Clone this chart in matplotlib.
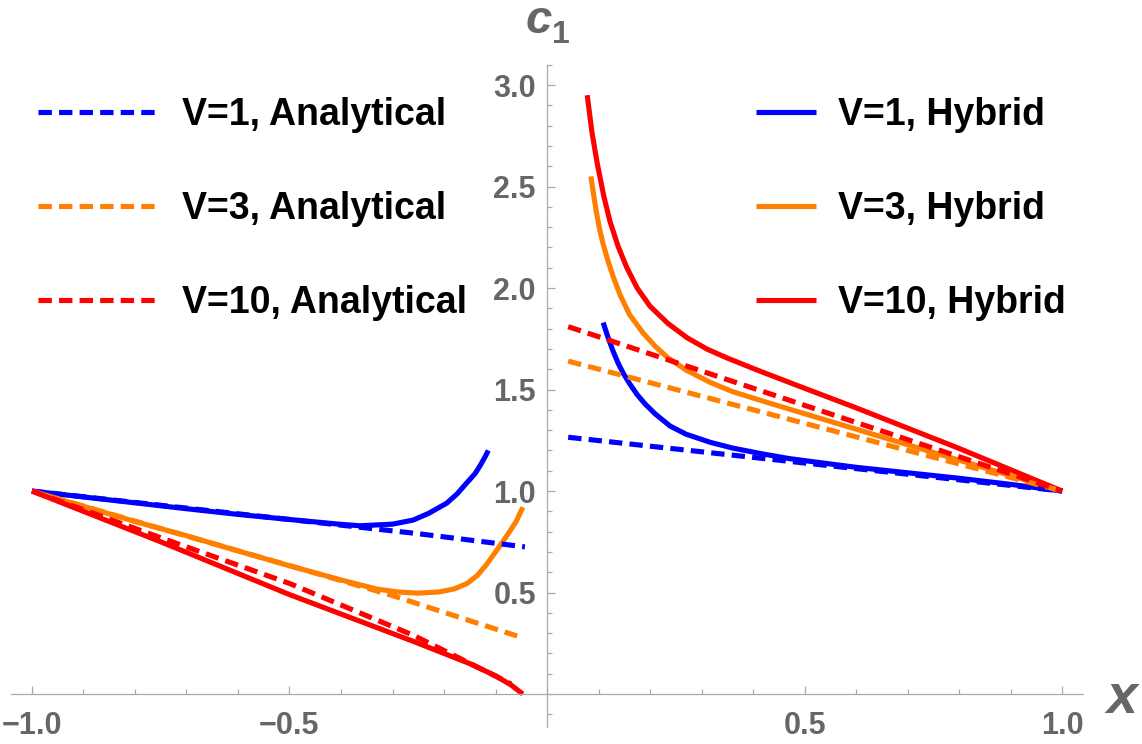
import matplotlib
matplotlib.use("Agg")
import matplotlib.pyplot as plt
from matplotlib.ticker import FixedLocator, FuncFormatter
import numpy as np

plt.rcParams['font.family'] = ['Liberation Sans', 'DejaVu Sans']
plt.rcParams['font.weight'] = 'bold'

# colours per V
c_v1 = '#0000ff'
c_v3 = '#ff8000'
c_v10 = '#ff0000'

# ---- left branch (x < 0) ----
# hybrid, V=1
hl1_x = [-1.0, -0.9, -0.8, -0.7, -0.6, -0.5, -0.45, -0.4, -0.363, -0.3, -0.26, -0.23, -0.195,
         -0.175, -0.156, -0.14, -0.13, -0.12, -0.114]
hl1_y = [1.0, 0.971, 0.942, 0.913, 0.885, 0.86, 0.848, 0.836, 0.829, 0.837, 0.857, 0.89, 0.94,
         0.985, 1.04, 1.085, 1.125, 1.17, 1.20]
# hybrid, V=3
hl3_x = [-1.0, -0.9, -0.8, -0.7, -0.6, -0.5, -0.4, -0.33, -0.29, -0.25, -0.21, -0.18, -0.155,
         -0.135, -0.117, -0.1, -0.078, -0.06, -0.047]
hl3_y = [1.0, 0.925, 0.85, 0.78, 0.705, 0.632, 0.562, 0.517, 0.503, 0.497, 0.503, 0.518, 0.545,
         0.585, 0.64, 0.7, 0.78, 0.85, 0.92]
# hybrid, V=10
hl10_x = [-1.0, -0.75, -0.5, -0.26, -0.15, -0.1, -0.07, -0.047]
hl10_y = [1.0, 0.75, 0.49, 0.26, 0.15, 0.09, 0.045, 0.0]
# analytical, left
al1_x = [-1.0, -0.75, -0.5, -0.25, -0.043]
al1_y = [1.0, 0.93, 0.86, 0.79, 0.725]
al3_x = [-1.0, -0.75, -0.5, -0.3, -0.13, -0.058]
al3_y = [1.0, 0.815, 0.633, 0.485, 0.345, 0.286]
al10_x = [-1.0, -0.75, -0.5, -0.26, -0.117, -0.07]
al10_y = [1.0, 0.77, 0.545, 0.29, 0.11, 0.05]

# ---- right branch (x > 0) ----
hr1_x = [0.109, 0.118, 0.128, 0.138, 0.148, 0.16, 0.175, 0.19, 0.21, 0.239, 0.27, 0.317, 0.36,
         0.414, 0.47, 0.53, 0.6, 0.7, 0.8, 0.9, 1.0]
hr1_y = [1.83, 1.76, 1.69, 1.63, 1.58, 1.53, 1.475, 1.43, 1.38, 1.32, 1.28, 1.24, 1.212,
         1.185, 1.16, 1.14, 1.117, 1.09, 1.063, 1.033, 1.0]
hr3_x = [0.085, 0.095, 0.102, 0.109, 0.12, 0.13, 0.142, 0.16, 0.186, 0.21, 0.233, 0.27, 0.317,
         0.36, 0.414, 0.491, 0.6, 0.7, 0.8, 0.9, 1.0]
hr3_y = [2.55, 2.385, 2.29, 2.215, 2.12, 2.045, 1.965, 1.87, 1.78, 1.713, 1.66, 1.596, 1.535,
         1.49, 1.447, 1.388, 1.305, 1.228, 1.152, 1.076, 1.0]
hr10_x = [0.078, 0.087, 0.097, 0.11, 0.122, 0.138, 0.155, 0.175, 0.2, 0.235, 0.272, 0.31, 0.35,
          0.414, 0.491, 0.6, 0.7, 0.8, 0.9, 1.0]
hr10_y = [2.95, 2.77, 2.62, 2.455, 2.33, 2.205, 2.10, 2.00, 1.91, 1.825, 1.755, 1.70, 1.655,
          1.59, 1.515, 1.41, 1.31, 1.21, 1.105, 1.0]
ar1_x = [0.041, 1.0]
ar1_y = [1.265, 1.0]
ar3_x = [0.041, 1.0]
ar3_y = [1.64, 1.0]
ar10_x = [0.041, 1.0]
ar10_y = [1.81, 1.0]

labels_analytical = ['V=1, Analytical', 'V=3, Analytical', 'V=10, Analytical']
labels_hybrid = ['V=1, Hybrid', 'V=3, Hybrid', 'V=10, Hybrid']

fig = plt.figure(figsize=(11.42, 7.44), dpi=100)
ax = fig.add_axes([0, 0, 1, 1])
ax.set_xlim(-1.062, 1.155)
ax.set_ylim(-0.246, 3.419)

lw = 3.7
dash = (2.6, 1.4)

solid_handles = []
for (xl, yl, xr, yr, col, lab) in [
        (hl1_x, hl1_y, hr1_x, hr1_y, c_v1, labels_hybrid[0]),
        (hl3_x, hl3_y, hr3_x, hr3_y, c_v3, labels_hybrid[1]),
        (hl10_x, hl10_y, hr10_x, hr10_y, c_v10, labels_hybrid[2])]:
    h, = ax.plot(xl, yl, color=col, lw=lw, label=lab, solid_capstyle='butt',
                 solid_joinstyle='round')
    ax.plot(xr, yr, color=col, lw=lw, solid_capstyle='butt', solid_joinstyle='round')
    solid_handles.append(h)

dash_handles = []
for (xl, yl, xr, yr, col, lab) in [
        (al1_x, al1_y, ar1_x, ar1_y, c_v1, labels_analytical[0]),
        (al3_x, al3_y, ar3_x, ar3_y, c_v3, labels_analytical[1]),
        (al10_x, al10_y, ar10_x, ar10_y, c_v10, labels_analytical[2])]:
    h, = ax.plot(xl, yl, color=col, lw=lw, dashes=dash, label=lab)
    ax.plot(xr, yr, color=col, lw=lw, dashes=dash)
    dash_handles.append(h)

# axes through the origin, Mathematica style
axis_col = '#aaaaaa'
for s in ['top', 'right']:
    ax.spines[s].set_visible(False)
ax.spines['left'].set_position(('data', 0))
ax.spines['bottom'].set_position(('data', 0))
ax.spines['left'].set_bounds(-0.16, 3.1)
ax.spines['bottom'].set_bounds(-1.04, 1.04)
for s in ['left', 'bottom']:
    ax.spines[s].set_color(axis_col)
    ax.spines[s].set_linewidth(0.9)

ax.xaxis.set_major_locator(FixedLocator([-1.0, -0.5, 0.5, 1.0]))
ax.xaxis.set_minor_locator(FixedLocator(np.round(np.arange(-1.0, 1.01, 0.1), 2)))
ax.yaxis.set_major_locator(FixedLocator([0.5, 1.0, 1.5, 2.0, 2.5, 3.0]))
ax.yaxis.set_minor_locator(FixedLocator(np.round(np.arange(-0.1, 3.11, 0.1), 2)))
fmt = FuncFormatter(lambda v, p: f'{v:.1f}'.replace('-', '\u2212'))
ax.xaxis.set_major_formatter(fmt)
ax.yaxis.set_major_formatter(fmt)
ax.tick_params(which='both', direction='in', color=axis_col, width=0.9,
               labelsize=22, labelcolor='#666666')
ax.tick_params(which='major', length=6)
ax.tick_params(which='minor', length=3.5)
ax.tick_params(axis='x', pad=12)
ax.tick_params(axis='y', pad=8)

fig.text(1122 / 1142, 1 - 713 / 744, 'x', fontsize=40, fontstyle='italic',
         fontweight='bold', color='#666666', ha='center', va='baseline')
fig.text(539 / 1142, 1 - 33 / 744, 'c', fontsize=34, fontstyle='italic',
         fontweight='bold', color='#666666', ha='center', va='baseline')
fig.text(561 / 1142, 1 - 43 / 744, '1', fontsize=23,
         fontweight='bold', color='#666666', ha='center', va='baseline')

leg1 = ax.legend(handles=dash_handles, loc='upper left',
                 bbox_to_anchor=(38 / 1142, 1 - 97 / 744), bbox_transform=fig.transFigure,
                 frameon=False, fontsize=27, handlelength=3.26, handletextpad=0.59,
                 labelspacing=1.55, borderpad=0, borderaxespad=0)
ax.add_artist(leg1)
ax.legend(handles=solid_handles, loc='upper left',
          bbox_to_anchor=(756 / 1142, 1 - 97 / 744), bbox_transform=fig.transFigure,
          frameon=False, fontsize=27, handlelength=1.6, handletextpad=0.59,
          labelspacing=1.55, borderpad=0, borderaxespad=0)

fig.savefig('out.png', dpi=100)
